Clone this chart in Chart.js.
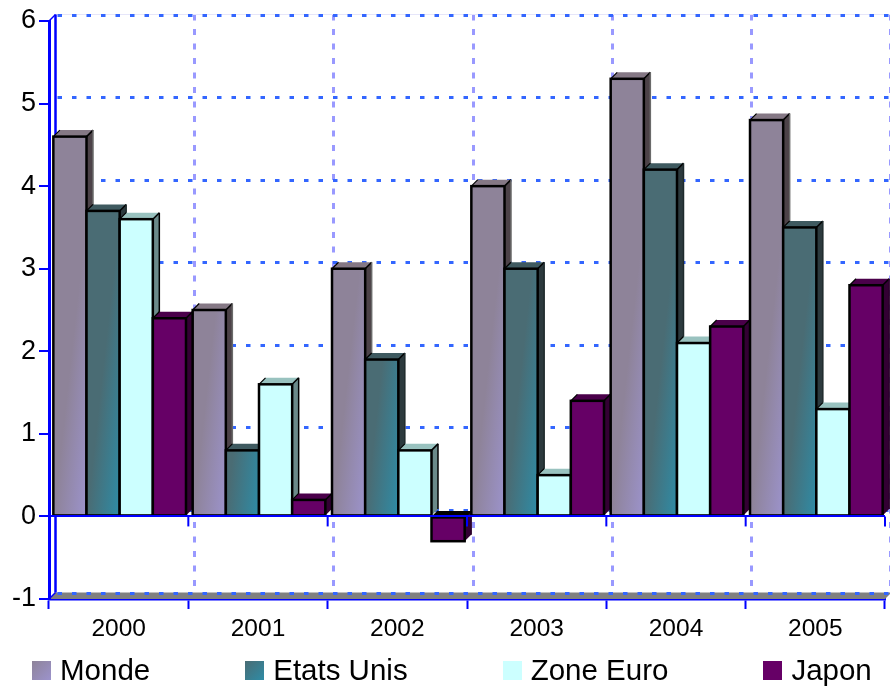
<!DOCTYPE html>
<html>
<head>
<meta charset="utf-8">
<title>Croissance du PIB</title>
<script src="https://cdn.jsdelivr.net/npm/chart.js@4"></script>
<style>
  html, body { margin: 0; padding: 0; background: #fff; }
  #box { position: relative; width: 890px; height: 688px; overflow: hidden; }
  #legende {
    position: absolute; left: 32px; top: 652px;
    display: flex; gap: 95px;
    font: 29.5px "Liberation Sans", Arial, sans-serif; color: #000;
  }
  #legende div { display: flex; align-items: center; gap: 9px; height: 36px; white-space: nowrap; }
  #legende span { display: block; width: 19px; height: 19px; }
</style>
</head>
<body>
<div id="box">
  <canvas id="graf" width="890" height="688"></canvas>
  <div id="legende"></div>
</div>
<script>
const annees = ["2000", "2001", "2002", "2003", "2004", "2005"];
const monde = [4.6, 2.5, 3.0, 4.0, 5.3, 4.8];
const etatsUnis = [3.7, 0.8, 1.9, 3.0, 4.2, 3.5];
const zoneEuro = [3.6, 1.6, 0.8, 0.5, 2.1, 1.3];
const japon = [2.4, 0.2, -0.3, 1.4, 2.3, 2.8];

const BLEU = "#0000ff";
const PROF_X = 6.5;
const PROF_Y = 6.5;
const LARG_GROUPE = 0.952;
const DECALAGE = 1; // les groupes de barres ne sont pas tout a fait centres

// couleurs de chaque serie: face avant (debut/fin du degrade), dessus, cote, arete
const styles = [
  { nom: "Monde", de: "#8e8399", a: "#9c93cc", dessus: "#857885", cote: "#4c4248", arete: "#6a6a6a" },
  { nom: "Etats Unis", de: "#4a6c74", a: "#2e8ca6", dessus: "#3f5a60", cote: "#2c3a3e", arete: "#1e2a2c" },
  { nom: "Zone Euro", de: "#ccffff", a: "#ccffff", dessus: "#99c2bf", cote: "#6b8a8a", arete: "#000" },
  { nom: "Japon", de: "#660066", a: "#660066", dessus: "#4a004a", cote: "#330033", arete: "#2a002a" }
];

// degrade presque horizontal, plus sature vers le coin bas droit de la barre
function degrade(ctx, st, s) {
  if (st.de === st.a || ctx.dataIndex === undefined) return st.de;
  const { x, y } = ctx.chart.scales;
  const pas = x.getPixelForTick(1) - x.getPixelForTick(0);
  const w = pas * LARG_GROUPE / styles.length;
  const d = x.getPixelForTick(ctx.dataIndex) + (s - 1) * w;
  const b = y.getPixelForValue(0);
  // les echelles ne sont pas encore placees au premier passage
  if (!Number.isFinite(d) || !Number.isFinite(b)) return st.de;
  const g = ctx.chart.ctx.createLinearGradient(d - 32.6, b - 3.6, d, b);
  g.addColorStop(0, st.de);
  g.addColorStop(1, st.a);
  return g;
}

function face(c, pts, fill) {
  c.beginPath();
  pts.forEach((p, i) => i ? c.lineTo(p[0], p[1]) : c.moveTo(p[0], p[1]));
  c.closePath();
  c.fillStyle = fill;
  c.fill();
}

function ligne(c, x1, y1, x2, y2, couleur, larg, dash) {
  c.beginPath();
  c.setLineDash(dash || []);
  c.moveTo(x1, y1);
  c.lineTo(x2, y2);
  c.strokeStyle = couleur;
  c.lineWidth = larg;
  c.stroke();
  c.setLineDash([]);
}

// mur du fond, sol et barres en relief, dessines categorie par categorie
const relief = {
  id: "relief",
  beforeDatasetsDraw(chart) {
    const c = chart.ctx;
    const { x, y } = chart.scales;
    const a = chart.chartArea;
    const pas = x.getPixelForTick(1) - x.getPixelForTick(0);
    const gauche = a.left + PROF_X;
    const droite = a.right + PROF_X;
    const bas = y.getPixelForValue(y.min);
    const haut = y.getPixelForValue(y.max);

    // sol gris
    face(c, [[a.left, bas], [gauche, bas - PROF_Y], [droite, bas - PROF_Y], [a.right, bas]], "#808080");

    // grille du mur
    annees.forEach((_, i) => {
      const gx = Math.round(x.getPixelForTick(i) + pas / 2 + PROF_X - 1) + 0.5;
      ligne(c, gx, haut - PROF_Y, gx, bas - PROF_Y, "#9999ff", 3, [6, 8.5]);
    });
    ligne(c, gauche, haut - PROF_Y, droite, haut - PROF_Y, "#e6e6fa", 1);
    y.ticks.forEach(t => {
      const gy = Math.round(y.getPixelForValue(t.value) - PROF_Y) + 0.5;
      ligne(c, gauche + 2, gy, droite, gy, "#3366ff", 3, [4.5, 10]);
    });

    // arete arriere de l'axe vertical
    ligne(c, gauche, haut - PROF_Y, gauche, bas - PROF_Y, BLEU, 2.5);
    ligne(c, a.left, haut, gauche, haut - PROF_Y, BLEU, 1.5);
    ligne(c, a.left, bas, gauche, bas - PROF_Y, BLEU, 1.5);

    c.save();
    c.translate(DECALAGE, 0);
    annees.forEach((_, i) => {
      styles.forEach((st, s) => {
        const el = chart.getDatasetMeta(s).data[i];
        const p = el.getProps(["x", "y", "base", "width"], true);
        const g = p.x - p.width / 2;
        const d = p.x + p.width / 2;
        const h = Math.min(p.y, p.base);
        const b = Math.max(p.y, p.base);
        // une barre negative montre un dessus noir au niveau du zero
        const dessus = p.y > p.base ? "#000" : st.dessus;
        face(c, [[g, h], [g + PROF_X, h - PROF_Y], [d + PROF_X, h - PROF_Y], [d, h]], dessus);
        face(c, [[d, h], [d + PROF_X, h - PROF_Y], [d + PROF_X, b - PROF_Y], [d, b]], st.cote);
        ligne(c, g, h, g + PROF_X, h - PROF_Y, "#000", 1.2);
        ligne(c, d, h, d + PROF_X, h - PROF_Y, "#000", 1.5);
        ligne(c, d + PROF_X, h - PROF_Y, d + PROF_X, b - PROF_Y, st.arete, 1.5);
        el.draw(c, a);
        // contour centre sur le bord de la barre
        c.strokeStyle = "#000";
        c.lineWidth = 2.5;
        c.strokeRect(g, h, d - g, b - h);
      });
    });
    c.restore();
    return false;
  },
  // petites graduations sous la ligne du zero
  afterDraw(chart) {
    const { x, y } = chart.scales;
    const y0 = y.getPixelForValue(0);
    const pas = x.getPixelForTick(1) - x.getPixelForTick(0);
    for (let i = 0; i <= annees.length; i++) {
      const gx = x.getPixelForTick(0) - pas / 2 + i * pas;
      ligne(chart.ctx, gx, y0, gx, y0 + 10, BLEU, 2);
    }
  }
};

const series = [monde, etatsUnis, zoneEuro, japon];

new Chart(document.getElementById("graf"), {
  type: "bar",
  plugins: [relief],
  data: {
    labels: annees,
    datasets: styles.map((st, i) => ({
      label: st.nom,
      data: series[i],
      backgroundColor: ctx => degrade(ctx, st, i),
      borderWidth: 0,
      categoryPercentage: LARG_GROUPE,
      barPercentage: 1
    }))
  },
  options: {
    responsive: false,
    animation: false,
    layout: { padding: { top: 21, right: 5 } },
    plugins: { legend: { display: false }, tooltip: { enabled: false } },
    scales: {
      x: {
        afterFit: s => { s.height = 89; },
        grid: {
          offset: true,
          drawOnChartArea: false,
          tickColor: BLEU,
          tickWidth: 2,
          tickLength: 10
        },
        border: { color: BLEU, width: 2.5 },
        ticks: {
          color: "#000",
          padding: 6,
          maxRotation: 0,
          font: { family: "Liberation Sans", size: 24.5 }
        }
      },
      y: {
        min: -1,
        max: 6,
        afterFit: s => { s.width = 49; },
        grid: {
          z: 1,
          color: c => c.tick && c.tick.value === 0 ? BLEU : "rgba(0,0,0,0)",
          lineWidth: 2,
          tickColor: BLEU,
          tickWidth: 2,
          tickLength: 10
        },
        // meme couche que la grille, sinon la position du trait n'est pas encore calculee
        border: { color: BLEU, width: 3, z: 1 },
        ticks: {
          stepSize: 1,
          color: "#000",
          padding: 3,
          font: { family: "Liberation Sans", size: 27 }
        }
      }
    }
  }
});

// legende manuelle
document.getElementById("legende").innerHTML = styles.map(st => `
  <div><span style="background:linear-gradient(135deg, ${st.de}, ${st.a})"></span>${st.nom}</div>
`).join("");
</script>
</body>
</html>
